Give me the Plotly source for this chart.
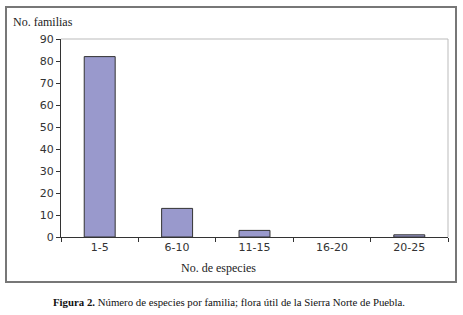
import plotly.graph_objects as go

categories = ["1-5", "6-10", "11-15", "16-20", "20-25"]
familias = [82, 13, 3, 0, 1]
y_ticks = [0, 10, 20, 30, 40, 50, 60, 70, 80, 90]

W, H = 463, 315
L, R, T, B = 61, 15, 39, 78
pw = W - L - R
ph = H - T - B

def px(x):
    return (x - L) / pw

def py(y):
    return (H - B - y) / ph

fig = go.Figure()
fig.add_trace(go.Bar(
    x=categories, y=familias,
    marker=dict(color="#9999cc",
                line=dict(color="#333333", width=[1 if v > 0 else 0 for v in familias])),
    width=0.4,
    hoverinfo="skip",
))

fig.update_layout(
    width=W, height=H,
    margin=dict(l=L, r=R, t=T, b=B, autoexpand=False),
    paper_bgcolor="white", plot_bgcolor="white",
    showlegend=False,
    font=dict(family="DejaVu Sans", size=11, color="#333333"),
    xaxis=dict(
        type="category", tickson="boundaries", ticks="outside", ticklen=4,
        tickcolor="#333333", showline=True, linecolor="#333333", linewidth=1,
        showgrid=False, tickfont=dict(size=11), range=[-0.5, 4.5], automargin=False,
    ),
    yaxis=dict(
        range=[0, 90], tickvals=y_ticks, ticks="outside", ticklen=4,
        tickcolor="#333333", showline=True, linecolor="#333333", linewidth=1,
        showgrid=False, zeroline=False, tickfont=dict(size=11), automargin=False,
    ),
    shapes=[
        dict(type="line", xref="paper", yref="paper", x0=0, x1=1, y0=1, y1=1,
             line=dict(color="#bbbbbb", width=1)),
        dict(type="line", xref="paper", yref="paper", x0=1, x1=1, y0=0, y1=1,
             line=dict(color="#bbbbbb", width=1)),
        dict(type="rect", xref="paper", yref="paper",
             x0=px(6), x1=px(456), y0=py(282), y1=py(7),
             line=dict(color="#777777", width=2), layer="above"),
    ],
    annotations=[
        dict(text="No. familias", xref="paper", yref="paper", x=px(11), y=py(22),
             xanchor="left", yanchor="middle", showarrow=False,
             font=dict(family="Liberation Serif", size=12, color="#222222")),
        dict(text="No. de especies", xref="paper", yref="paper", x=px(218), y=py(268),
             xanchor="center", yanchor="middle", showarrow=False,
             font=dict(family="Liberation Serif", size=12, color="#222222")),
        dict(text="<b>Figura 2.</b> Número de especies por familia; flora útil de la Sierra Norte de Puebla.",
             xref="paper", yref="paper", x=px(229), y=py(302),
             xanchor="center", yanchor="middle", showarrow=False,
             font=dict(family="Liberation Serif", size=10.8, color="#111111")),
    ],
)

fig.write_html("out.html", config={"displayModeBar": False},
               post_script="document.body.style.margin='0';")
